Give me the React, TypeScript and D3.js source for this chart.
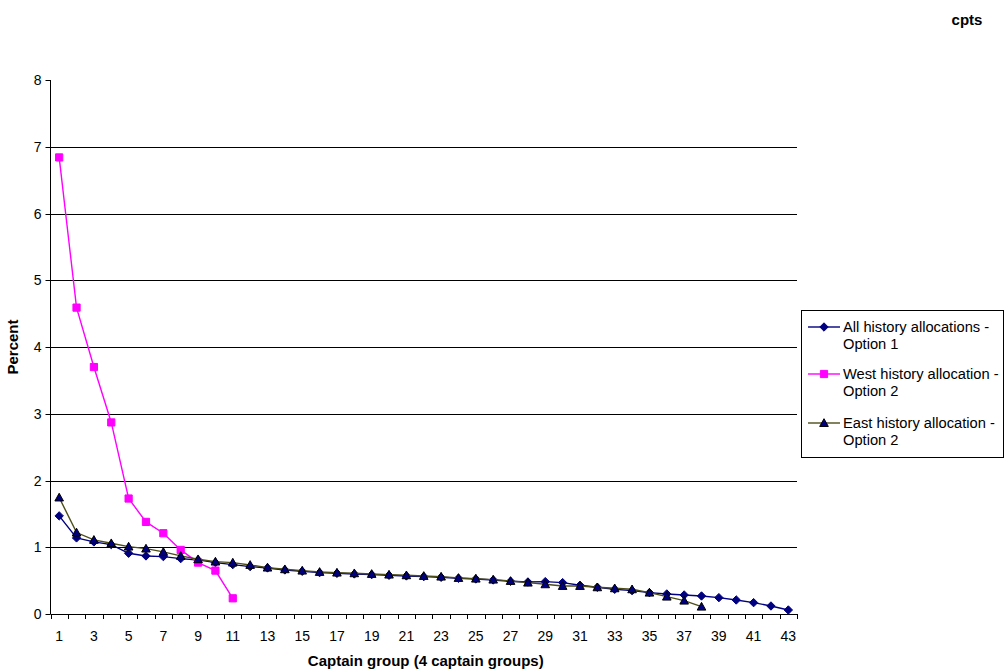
import React from "react";
import * as d3 from "d3";

const categories: number[] = d3.range(1, 44);

const allHistory: number[] = [
  1.47, 1.14, 1.08, 1.04, 0.91, 0.87, 0.86, 0.83, 0.81, 0.77,
  0.74, 0.71, 0.69, 0.66, 0.64, 0.62, 0.61, 0.6, 0.59, 0.58,
  0.57, 0.56, 0.55, 0.535, 0.525, 0.51, 0.49, 0.48, 0.485, 0.47,
  0.43, 0.4, 0.37, 0.35, 0.32, 0.3, 0.285, 0.27, 0.245, 0.21,
  0.17, 0.12, 0.06,
];

const westHistory: number[] = [
  6.84, 4.59, 3.7, 2.87, 1.73, 1.38, 1.21, 0.96, 0.77, 0.65, 0.235,
];

const eastHistory: number[] = [
  1.745, 1.22, 1.11, 1.06, 1.01, 0.98, 0.93, 0.87, 0.82, 0.785,
  0.77, 0.735, 0.695, 0.67, 0.65, 0.63, 0.62, 0.61, 0.6, 0.59,
  0.58, 0.57, 0.56, 0.54, 0.53, 0.515, 0.495, 0.47, 0.445, 0.42,
  0.42, 0.4, 0.385, 0.37, 0.32, 0.26, 0.2, 0.11,
];

const yTicks: number[] = [0, 1, 2, 3, 4, 5, 6, 7, 8];
const xTickLabels: number[] = categories.filter((c) => c % 2 === 1);

const seriesNames: string[][] = [
  ["All history allocations -", "Option 1"],
  ["West history allocation -", "Option 2"],
  ["East history allocation -", "Option 2"],
];

const FONT = "'Liberation Sans', Arial, sans-serif";
const W = 1005;
const H = 671;
const L = 50.5;
const R = 797;
const T = 80;
const B = 614;

const x = d3.scaleBand<number>().domain(categories).range([L, R]).padding(0);
const y = d3.scaleLinear().domain([0, 8]).range([B, T]);
const cx = (c: number) => (x(c) as number) + x.bandwidth() / 2;

type Marker = "diamond" | "square" | "triangle";

function markerPath(kind: Marker, px: number, py: number): string {
  if (kind === "diamond") {
    const s = 4.2;
    return `M${px},${py - s}L${px + s},${py}L${px},${py + s}L${px - s},${py}Z`;
  }
  if (kind === "square") {
    const s = 3.6;
    return `M${px - s},${py - s}H${px + s}V${py + s}H${px - s}Z`;
  }
  const s = 4.3;
  return `M${px},${py - s}L${px + s},${py + s * 0.8}L${px - s},${py + s * 0.8}Z`;
}

const seriesDefs = [
  { values: allHistory, line: "#000080", fill: "#000080", stroke: "#000080", marker: "diamond" as Marker },
  { values: westHistory, line: "#FF00FF", fill: "#FF00FF", stroke: "#FF00FF", marker: "square" as Marker },
  { values: eastHistory, line: "#4d4d1a", fill: "#000080", stroke: "#000000", marker: "triangle" as Marker },
];

export default function App() {
  const lineGen = d3
    .line<number>()
    .x((_, i) => cx(categories[i]))
    .y((v) => y(v));

  const legendY = [327, 374, 423];

  return (
    <svg width={W} height={H} style={{ position: "absolute", left: 0, top: 0, background: "#fff" }}>
      <rect x={0} y={0} width={W} height={H} fill="#fff" />
      {/* gridlines */}
      {yTicks.filter((t) => t > 0 && t < 8).map((t) => (
        <line key={t} x1={L} x2={R} y1={Math.round(y(t)) + 0.5} y2={Math.round(y(t)) + 0.5} stroke="#000" strokeWidth={1} />
      ))}
      {/* y axis */}
      <line x1={L} x2={L} y1={T} y2={B} stroke="#000" />
      {yTicks.map((t) => (
        <g key={t}>
          <line x1={L - 5} x2={L} y1={Math.round(y(t)) + 0.5} y2={Math.round(y(t)) + 0.5} stroke="#000" />
          <text x={L - 9} y={y(t) + 5} textAnchor="end" fontFamily={FONT} fontSize={14} fill="#000">
            {t}
          </text>
        </g>
      ))}
      {/* x axis */}
      <line x1={L} x2={R} y1={B + 0.5} y2={B + 0.5} stroke="#000" />
      {categories.concat([categories.length + 1]).map((c, i) => {
        const xx = Math.round(L + i * x.bandwidth()) + 0.5;
        return <line key={c} x1={xx} x2={xx} y1={B} y2={B + 5} stroke="#000" />;
      })}
      {xTickLabels.map((c) => (
        <text key={c} x={cx(c)} y={641} textAnchor="middle" fontFamily={FONT} fontSize={14} fill="#000">
          {c}
        </text>
      ))}
      {/* series */}
      {seriesDefs.map((s, si) => (
        <g key={si}>
          <path d={lineGen(s.values) || ""} fill="none" stroke={s.line} strokeWidth={1.4} />
          {s.values.map((v, i) => (
            <path key={i} d={markerPath(s.marker, cx(categories[i]), y(v))} fill={s.fill} stroke={s.stroke} strokeWidth={1} />
          ))}
        </g>
      ))}
      {/* axis titles */}
      <text x={(L + R) / 2 + 2} y={666} textAnchor="middle" fontFamily={FONT} fontSize={15} fontWeight="bold" fill="#000">
        Captain group (4 captain groups)
      </text>
      <text transform={`translate(18,347) rotate(-90)`} textAnchor="middle" fontFamily={FONT} fontSize={15} fontWeight="bold" fill="#000">
        Percent
      </text>
      <text x={967} y={25} textAnchor="middle" fontFamily={FONT} fontSize={15} fontWeight="bold" fill="#000">
        cpts
      </text>
      {/* legend */}
      <rect x={801.5} y={310.5} width={202} height={147} fill="#fff" stroke="#000" />
      {seriesDefs.map((s, si) => (
        <g key={si}>
          <line x1={808} x2={840} y1={legendY[si]} y2={legendY[si]} stroke={s.line} strokeWidth={1.4} />
          <path d={markerPath(s.marker, 824, legendY[si])} fill={s.fill} stroke={s.stroke} />
          <text x={843} y={legendY[si] + 5} fontFamily={FONT} fontSize={14.7} fill="#000">
            {seriesNames[si][0]}
          </text>
          <text x={843} y={legendY[si] + 22} fontFamily={FONT} fontSize={14.7} fill="#000">
            {seriesNames[si][1]}
          </text>
        </g>
      ))}
    </svg>
  );
}
